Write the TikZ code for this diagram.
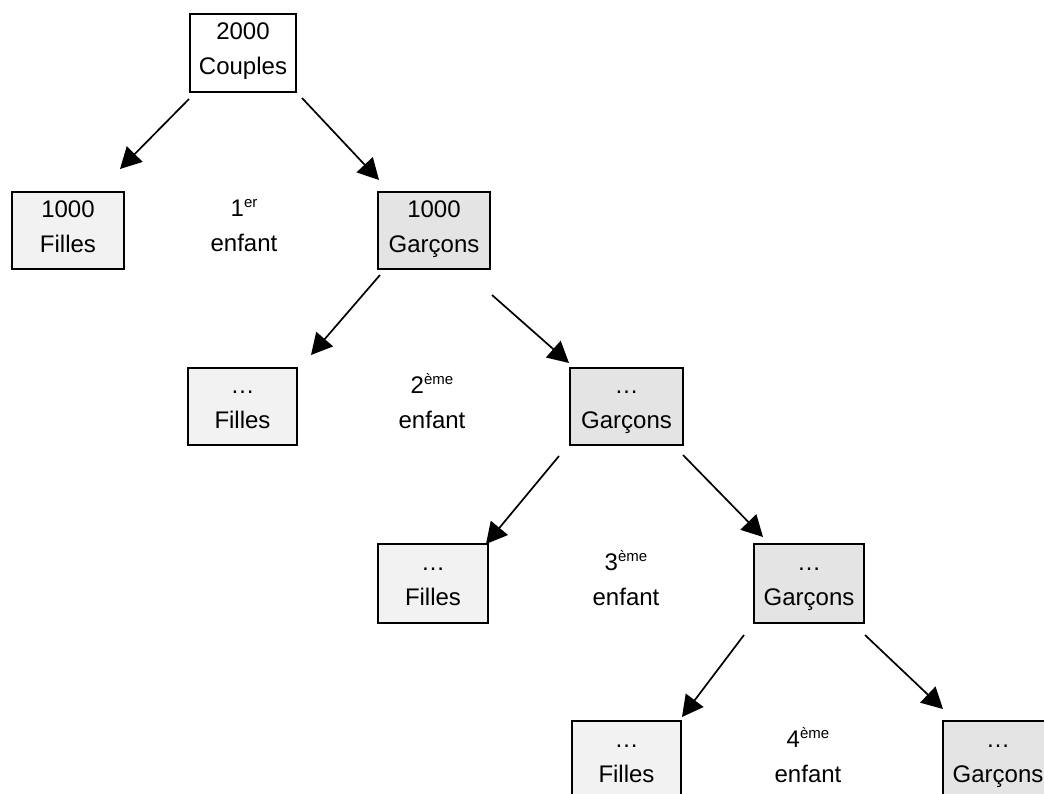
\documentclass[tikz,border=0pt]{standalone}
\usepackage{fontspec}
\setmainfont{Liberation Sans}
\usetikzlibrary{arrows.meta,calc}
\definecolor{fillF}{HTML}{F2F2F2}
\definecolor{fillG}{HTML}{E4E4E4}
\newcommand\tstrut{\rule{0pt}{18pt}}
\newcommand\bstrut{\rule[-9pt]{0pt}{9pt}}
\newcommand\expo[1]{\raisebox{9pt}{\fontsize{15}{15}\selectfont #1}}
\begin{document}
\begin{tikzpicture}[x=1pt,y=-1pt,
  box/.style={draw=black, line width=2pt, anchor=north west, inner sep=0pt,
    align=center, font=\fontsize{24}{35}\selectfont},
  fbox/.style={box, fill=fillF},
  gbox/.style={box, fill=fillG},
  lab/.style={inner sep=0pt, align=center, font=\fontsize{24}{35}\selectfont},
  arr/.style={line width=1.7pt, -{Triangle[length=21pt,width=22pt]}}]
\useasboundingbox (0,0) rectangle (1044,794);
\fill[white] (0,0) rectangle (1044,794);
\clip (0,0) rectangle (1044,794);

\node[box, fill=white, minimum width=106pt, minimum height=78pt] (couples) at (189,13) {\tstrut 2000\\Couples\bstrut};

\node[fbox, minimum width=112pt, minimum height=77pt] (f1) at (11,191) {\tstrut 1000\\Filles\bstrut};
\node[gbox, minimum width=112pt, minimum height=77pt] (g1) at (377,191) {\tstrut 1000\\Garçons\bstrut};
\node[lab] (l1) at (244,229.5) {\tstrut 1\expo{er}\\enfant\bstrut};

\node[fbox, minimum width=109pt, minimum height=77pt] (f2) at (187,367) {\tstrut …\\Filles\bstrut};
\node[gbox, minimum width=113pt, minimum height=77pt] (g2) at (569,367) {\tstrut …\\Garçons\bstrut};
\node[lab] (l2) at (432,405.5) {\tstrut 2\expo{ème}\\enfant\bstrut};

\node[fbox, minimum width=110pt, minimum height=79pt] (f3) at (377,543) {\tstrut …\\Filles\bstrut};
\node[gbox, minimum width=110pt, minimum height=79pt] (g3) at (753,543) {\tstrut …\\Garçons\bstrut};
\node[lab] (l3) at (626,582.5) {\tstrut 3\expo{ème}\\enfant\bstrut};

\node[fbox, minimum width=109pt, minimum height=78pt] (f4) at (571,720) {\tstrut …\\Filles\bstrut};
\node[gbox, minimum width=110pt, minimum height=78pt] (g4) at (942,720) {\tstrut …\\Garçons\bstrut};
\node[lab] (l4) at (808,759) {\tstrut 4\expo{ème}\\enfant\bstrut};

\draw[arr] ($(couples.south west)+(0,6)$) -- ($(f1.north east)+(-5,-22)$);
\draw[arr] ($(couples.south east)+(5,5)$) -- ($(g1.north west)+(2,-11)$);
\draw[arr] ($(g1.south west)+(3,5)$) -- ($(f2.north east)+(13,-12)$);
\draw[arr] ($(g1.south east)+(1,25)$) -- ($(g2.north west)+(0,-4)$);
\draw[arr] ($(g2.south west)+(-10,10)$) -- ($(f3.north east)+(-3,1)$);
\draw[arr] ($(g2.south east)+(-1,9)$) -- ($(g3.north west)+(10,-6)$);
\draw[arr] ($(g3.south west)+(-9,11)$) -- ($(f4.north east)+(0,-3)$);
\draw[arr] ($(g3.south east)+(0,11)$) -- ($(g4.north west)+(1,-11)$);
\end{tikzpicture}
\end{document}
